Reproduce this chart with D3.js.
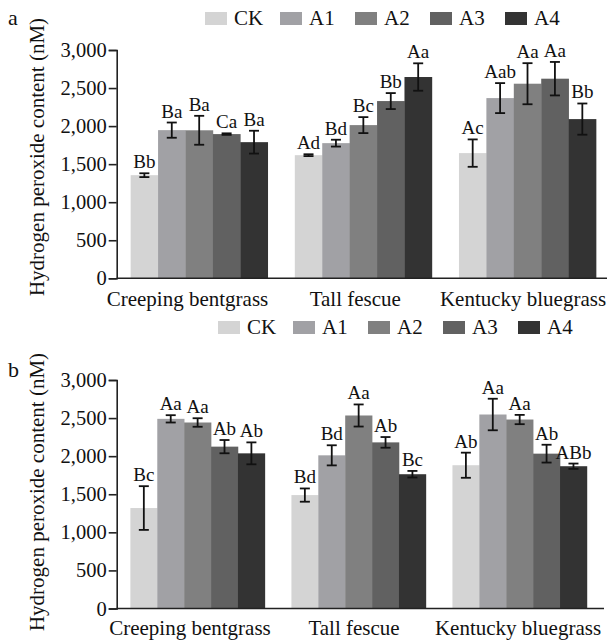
<!DOCTYPE html>
<html><head><meta charset="utf-8">
<script src="https://cdn.jsdelivr.net/npm/d3@7"></script>
<style>
html,body{margin:0;padding:0;background:#fff;}
text{font-family:"Liberation Serif","Times New Roman",serif;fill:#111;}
</style></head>
<body>
<svg id="chart" width="608" height="642"></svg>
<script>
const categories = ["Creeping bentgrass", "Tall fescue", "Kentucky bluegrass"];
const treatments = ["CK", "A1", "A2", "A3", "A4"];
const colors = ["#d4d4d4", "#a1a1a5", "#808080", "#616161", "#333333"];
const yTicks = [0, 500, 1000, 1500, 2000, 2500, 3000];

// Panel a: rows = categories, columns = treatments
const meansA = [
  [1355, 1947, 1945, 1895, 1789],
  [1618, 1776, 2013, 2329, 2645],
  [1645, 2368, 2557, 2623, 2092]
];
const errA = [
  [25, 100, 190, 10, 150],
  [12, 45, 105, 105, 180],
  [180, 197, 270, 220, 205]
];
const lettersA = [
  ["Bb", "Ba", "Ba", "Ca", "Ba"],
  ["Ad", "Bd", "Bc", "Bb", "Aa"],
  ["Ac", "Aab", "Aa", "Aa", "Bb"]
];

// Panel b
const meansB = [
  [1319, 2490, 2442, 2125, 2037],
  [1489, 2011, 2534, 2181, 1763],
  [1881, 2547, 2481, 2033, 1868]
];
const errB = [
  [287, 48, 56, 87, 144],
  [87, 132, 145, 70, 43],
  [165, 207, 61, 117, 35]
];
const lettersB = [
  ["Bc", "Aa", "Aa", "Ab", "Ab"],
  ["Bd", "Bd", "Aa", "Ab", "Bc"],
  ["Ab", "Aa", "Aa", "Ab", "ABb"]
];

const svg = d3.select("#chart");

const panels = [
  {tag: "a", means: meansA, err: errA, letters: lettersA,
   top: 50, bottom: 278.3, left: 116.7, right: 610, lineEnd: 607,
   tagY: 25, legX: 205, legY: 12, catRange: [187.5, 523], catY: 306,
   titleY: 157},
  {tag: "b", means: meansB, err: errB, letters: lettersB,
   top: 380, bottom: 608.5, left: 116.7, right: 600.6, lineEnd: 604,
   tagY: 377, legX: 218, legY: 321, catRange: [190, 518], catY: 635,
   titleY: 492}
];

panels.forEach(p => {
  const g = svg.append("g");
  const x0 = d3.scaleBand().domain(categories).range([p.left, p.right])
    .paddingInner(0.165).paddingOuter(0.085);
  const x1 = d3.scaleBand().domain(treatments).range([0, x0.bandwidth()]);
  const y = d3.scaleLinear().domain([0, 3000]).range([p.bottom, p.top]);
  const color = d3.scaleOrdinal().domain(treatments).range(colors);
  const xl = d3.scalePoint().domain(categories).range(p.catRange);

  const rows = [];
  categories.forEach((c, i) => treatments.forEach((t, j) => {
    rows.push({cat: c, tr: t, v: p.means[i][j], e: p.err[i][j], lab: p.letters[i][j]});
  }));

  // bars
  g.selectAll("rect.bar").data(rows).join("rect")
    .attr("class", "bar")
    .attr("x", d => x0(d.cat) + x1(d.tr))
    .attr("width", x1.bandwidth() + 0.3)
    .attr("y", d => y(d.v))
    .attr("height", d => y(0) - y(d.v))
    .attr("fill", d => color(d.tr));

  // error bars
  const eb = g.selectAll("g.err").data(rows).join("g").attr("class", "err")
    .attr("stroke", "#111").attr("stroke-width", 1.8);
  const cx = d => x0(d.cat) + x1(d.tr) + x1.bandwidth() / 2;
  eb.append("line").attr("x1", cx).attr("x2", cx)
    .attr("y1", d => y(d.v + d.e)).attr("y2", d => y(d.v - d.e));
  eb.append("line").attr("x1", d => cx(d) - 5).attr("x2", d => cx(d) + 5)
    .attr("y1", d => y(d.v + d.e)).attr("y2", d => y(d.v + d.e));
  eb.append("line").attr("x1", d => cx(d) - 5).attr("x2", d => cx(d) + 5)
    .attr("y1", d => y(d.v - d.e)).attr("y2", d => y(d.v - d.e));

  // letters
  g.selectAll("text.lab").data(rows).join("text").attr("class", "lab")
    .attr("x", cx).attr("y", d => y(d.v + d.e) - 5)
    .attr("text-anchor", "middle").attr("font-size", 19)
    .text(d => d.lab);

  // y axis
  const ya = g.append("g").attr("transform", `translate(${p.left},0)`)
    .call(d3.axisLeft(y).tickValues(yTicks).tickFormat(d3.format(",")).tickSizeOuter(0).tickSize(8).tickPadding(2));
  ya.select(".domain").attr("stroke", "#222").attr("stroke-width", 1.6);
  ya.selectAll(".tick line").attr("stroke", "#222").attr("stroke-width", 1.6);
  ya.selectAll(".tick text").attr("font-size", 20.5).attr("fill", "#111")
    .attr("font-family", "Liberation Serif, Times New Roman, serif");

  // x axis line
  g.append("line").attr("x1", p.left).attr("x2", p.lineEnd)
    .attr("y1", y(0)).attr("y2", y(0)).attr("stroke", "#222").attr("stroke-width", 1.6);

  // category labels
  g.selectAll("text.cat").data(categories).join("text").attr("class", "cat")
    .attr("x", d => xl(d)).attr("y", p.catY)
    .attr("text-anchor", "middle").attr("font-size", 21).text(d => d);

  // y title
  g.append("text").attr("transform", `translate(44,${p.titleY}) rotate(-90)`)
    .attr("text-anchor", "middle").attr("font-size", 21)
    .text("Hydrogen peroxide content (nM)");

  // panel tag
  g.append("text").attr("x", 8).attr("y", p.tagY).attr("font-size", 22).text(p.tag);

  // legend
  const leg = g.selectAll("g.leg").data(treatments).join("g").attr("class", "leg")
    .attr("transform", (d, i) => `translate(${p.legX + i * 75},${p.legY})`);
  leg.append("rect").attr("width", 22).attr("height", 13).attr("fill", d => color(d));
  leg.append("text").attr("x", 29).attr("y", 13).attr("font-size", 21).text(d => d);
});
</script>
</body></html>
